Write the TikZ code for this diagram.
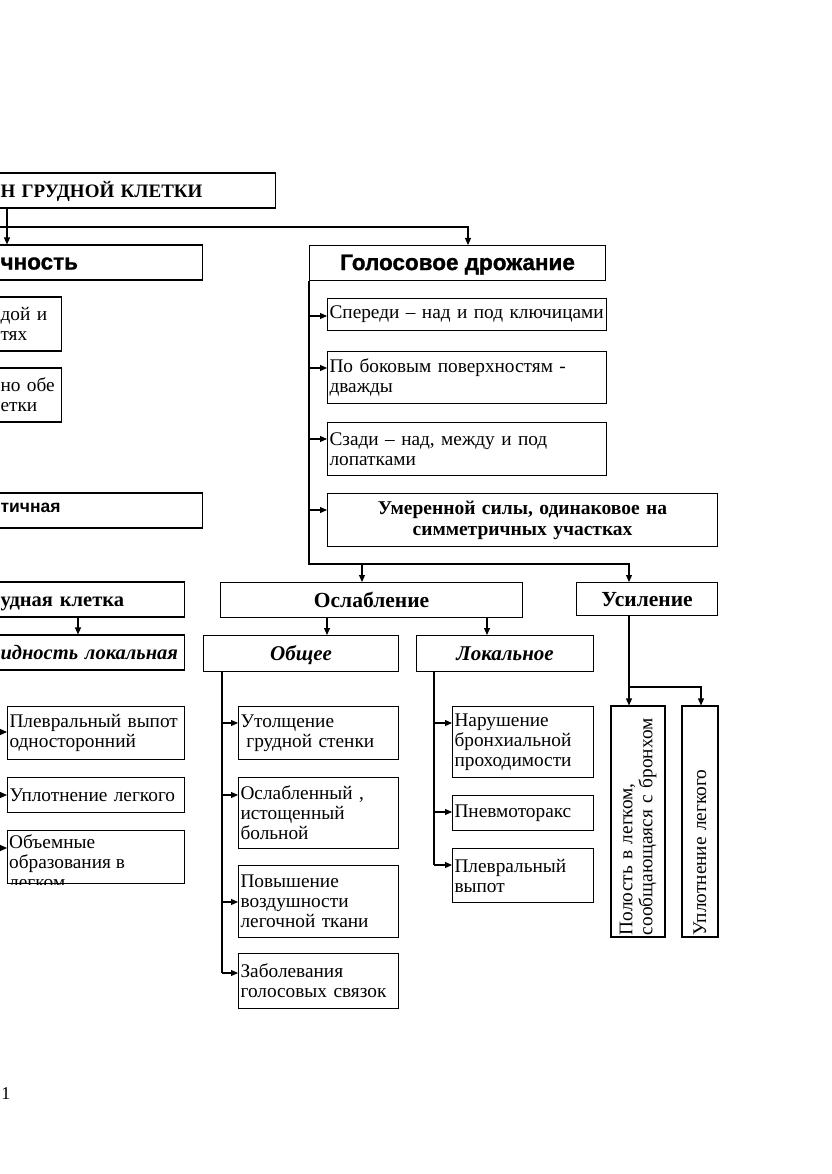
\documentclass[tikz,border=0pt]{standalone}
\usepackage{fontspec}
\setmainfont{Liberation Serif}
\newfontfamily\hsans{Liberation Sans}
\newfontfamily\hblack[BoldFeatures={FakeBold=1.2}]{Liberation Sans}
\usetikzlibrary{arrows.meta}
\begin{document}
\begin{tikzpicture}[x=1pt,y=-1pt,
  ln/.style={line width=1.1pt},
  arr/.style={line width=1.1pt,-{Triangle[length=7pt,width=6pt]}},
  box/.style={draw,line width=1.1pt,inner xsep=2pt,inner ysep=0pt,align=left,
    font=\fontsize{19.3}{20}\selectfont},
  cbox/.style={box,align=center},
  hd/.style={text height=17pt,text depth=3pt},
  hsb/.style={hd,font=\hblack\bfseries\fontsize{22.5}{24}\selectfont},
  hsbs/.style={text height=12pt,text depth=9pt,font=\hsans\bfseries\fontsize{17.5}{20}\selectfont},
  hrb/.style={hd,font=\bfseries\fontsize{21.5}{24}\selectfont},
  hrbi/.style={hd,font=\bfseries\itshape\fontsize{21}{24}\selectfont},
  cut/.style={box,anchor=west,inner xsep=4pt},
]
\clip (0,0) rectangle (831,1174);
\useasboundingbox (0,0) rectangle (831,1174);

% ---------- left (cut) column ----------
\node[cut,hd,font=\bfseries\fontsize{19}{22}\selectfont,minimum width=279,minimum height=35,text width=271] (title) at (-4,190.5) {\mbox{Н ГРУДНОЙ КЛЕТКИ}};
\node[cut,hsb,minimum width=206,minimum height=35,text width=198] (el) at (-4,262.5) {\mbox{чность}};
\node[cut,minimum width=65,minimum height=54,text width=57] (l1) at (-4,324) {\mbox{дой и}\\\mbox{тях}};
\node[cut,minimum width=65,minimum height=54,text width=57] (l2) at (-4,395) {\mbox{но обе}\\\mbox{етки}};
\node[cut,hsbs,minimum width=206,minimum height=35,text width=198] (l3) at (-4,510.5) {\mbox{тичная}};
\node[cut,hd,font=\bfseries\fontsize{20.5}{24}\selectfont,minimum width=188,minimum height=35,text width=180] (rig) at (-4,599.5) {\mbox{удная клетка}};
\node[cut,hd,font=\bfseries\itshape\fontsize{20.5}{24}\selectfont,minimum width=188,minimum height=35,text width=180] (rigl) at (-4,652.5) {\mbox{идность локальная}};

\node[box,anchor=north west,minimum width=177,minimum height=53,text width=173] (lp1) at (7,706) {Плевральный выпот\\односторонний};
\node[box,anchor=north west,minimum width=177,minimum height=35,text width=173] (lp2) at (7,777) {\mbox{Уплотнение легкого}};
\node[draw,line width=1.1pt,anchor=north west,minimum width=177,minimum height=53,inner sep=0pt] (lp3) at (7,830) {};
\begin{scope}
\clip (lp3.north west) rectangle (lp3.south east);
\node[anchor=north west,align=left,inner xsep=2pt,inner ysep=4.5pt,font=\fontsize{19.3}{20}\selectfont] (lp3t) at (lp3.north west) {Объемные\\образования в\\легком};
\end{scope}

% ---------- Голосовое дрожание ----------
\node[cbox,hsb,anchor=north west,minimum width=296,minimum height=35] (gol) at (309,245) {Голосовое дрожание};
\node[box,anchor=north west,minimum width=279,minimum height=32,text width=275] (g1) at (327,298) {\mbox{Спереди – над и под ключицами}};
\node[box,anchor=north west,minimum width=279,minimum height=52,text width=275] (g2) at (327,351) {По боковым поверхностям -\\дважды};
\node[box,anchor=north west,minimum width=279,minimum height=53,text width=275] (g3) at (327,422) {Сзади – над, между и под\\лопатками};
\node[cbox,anchor=north west,minimum width=390,minimum height=53,text width=386,
  font=\bfseries\fontsize{19.5}{21}\selectfont] (g4) at (327,493) {Умеренной силы, одинаковое на\\симметричных участках};

\node[cbox,hrb,anchor=north west,minimum width=302,minimum height=35] (osl) at (220,582) {Ослабление};
\node[cbox,hrb,anchor=north west,minimum width=141,minimum height=33] (usil) at (576,582) {Усиление};
\node[cbox,hrbi,anchor=north west,minimum width=195,minimum height=36] (ob) at (203,635) {Общее};
\node[cbox,hrbi,anchor=north west,minimum width=177,minimum height=36] (lok) at (416,635) {Локальное};

\node[box,anchor=north west,minimum width=160,minimum height=53,text width=156] (o1) at (238,706) {Утолщение\\\hspace*{0.3em}грудной стенки};
\node[box,anchor=north west,minimum width=160,minimum height=71,text width=156] (o2) at (238,777) {Ослабленный ,\\истощенный\\больной};
\node[box,anchor=north west,minimum width=160,minimum height=72,text width=156] (o3) at (238,865) {Повышение\\воздушности\\легочной ткани};
\node[box,anchor=north west,minimum width=160,minimum height=55,text width=156] (o4) at (238,953) {Заболевания\\голосовых связок};

\node[box,anchor=north west,minimum width=141,minimum height=71,text width=137] (k1) at (452,706) {Нарушение\\бронхиальной\\проходимости};
\node[box,anchor=north west,minimum width=141,minimum height=35,text width=137] (k2) at (452,795) {Пневмоторакс};
\node[box,anchor=north west,minimum width=141,minimum height=54,text width=137] (k3) at (452,848) {Плевральный\\выпот};

\node[box,rotate=90,minimum width=231,minimum height=54,text width=227] (u1) at (638,821.5) {Полость в легком,\\сообщающаяся с бронхом};
\node[box,rotate=90,minimum width=231,minimum height=36,text width=227] (u2) at (700,821.5) {Уплотнение легкого};

\node[font=\fontsize{18}{20}\selectfont,inner sep=0pt] (pg) at (6,1094) {1};

% ---------- connectors ----------
\coordinate (cL) at (0,227);
\coordinate (cA) at (7,227);
\coordinate (cR) at (468,227);
\draw[arr] (title.south -| cA) -- (el.north -| cA);
\draw[arr] (cL) -- (cR) -- (cR |- gol.north);

\coordinate (jO) at (362,564);
\coordinate (jU) at (629,564);
\draw[arr] (gol.south west) |- (jU) -- (jU |- usil.north);
\draw[arr] (jO) -- (jO |- osl.north);
\coordinate (sg1) at (309,316);
\coordinate (sg2) at (309,368);
\coordinate (sg3) at (309,439);
\coordinate (sg4) at (309,510);
\draw[arr] (sg1) -- (sg1 -| g1.west);
\draw[arr] (sg2) -- (sg2 -| g2.west);
\draw[arr] (sg3) -- (sg3 -| g3.west);
\draw[arr] (sg4) -- (sg4 -| g4.west);

\coordinate (rA) at (78,617);
\draw[arr] (rA) -- (rA |- rigl.north);
\coordinate (lA1) at (0,732);
\coordinate (lA2) at (0,795);
\coordinate (lA3) at (0,848);
\draw[arr] (lA1) -- (lA1 -| lp1.west);
\draw[arr] (lA2) -- (lA2 -| lp2.west);
\draw[arr] (lA3) -- (lA3 -| lp3.west);

\coordinate (oA) at (327,617);
\coordinate (oB) at (487,617);
\draw[arr] (oA) -- (oA |- ob.north);
\draw[arr] (oB) -- (oB |- lok.north);

\coordinate (sb0) at (222,671);
\coordinate (sb1) at (222,723);
\coordinate (sb2) at (222,795);
\coordinate (sb3) at (222,902);
\coordinate (sb4) at (222,973);
\draw[ln] (sb0) -- (sb4);
\draw[arr] (sb1) -- (sb1 -| o1.west);
\draw[arr] (sb2) -- (sb2 -| o2.west);
\draw[arr] (sb3) -- (sb3 -| o3.west);
\draw[arr] (sb4) -- (sb4 -| o4.west);

\coordinate (sk0) at (434,671);
\coordinate (sk1) at (434,723);
\coordinate (sk2) at (434,812);
\coordinate (sk3) at (434,865);
\draw[ln] (sk0) -- (sk3);
\draw[arr] (sk1) -- (sk1 -| k1.west);
\draw[arr] (sk2) -- (sk2 -| k2.west);
\draw[arr] (sk3) -- (sk3 -| k3.west);

\coordinate (su0) at (629,615);
\coordinate (su1) at (629,687);
\coordinate (su2) at (701,687);
\draw[arr] (su0) -- (su0 |- u1.east);
\draw[arr] (su1) -- (su2) -- (su2 |- u2.east);
\end{tikzpicture}
\end{document}
